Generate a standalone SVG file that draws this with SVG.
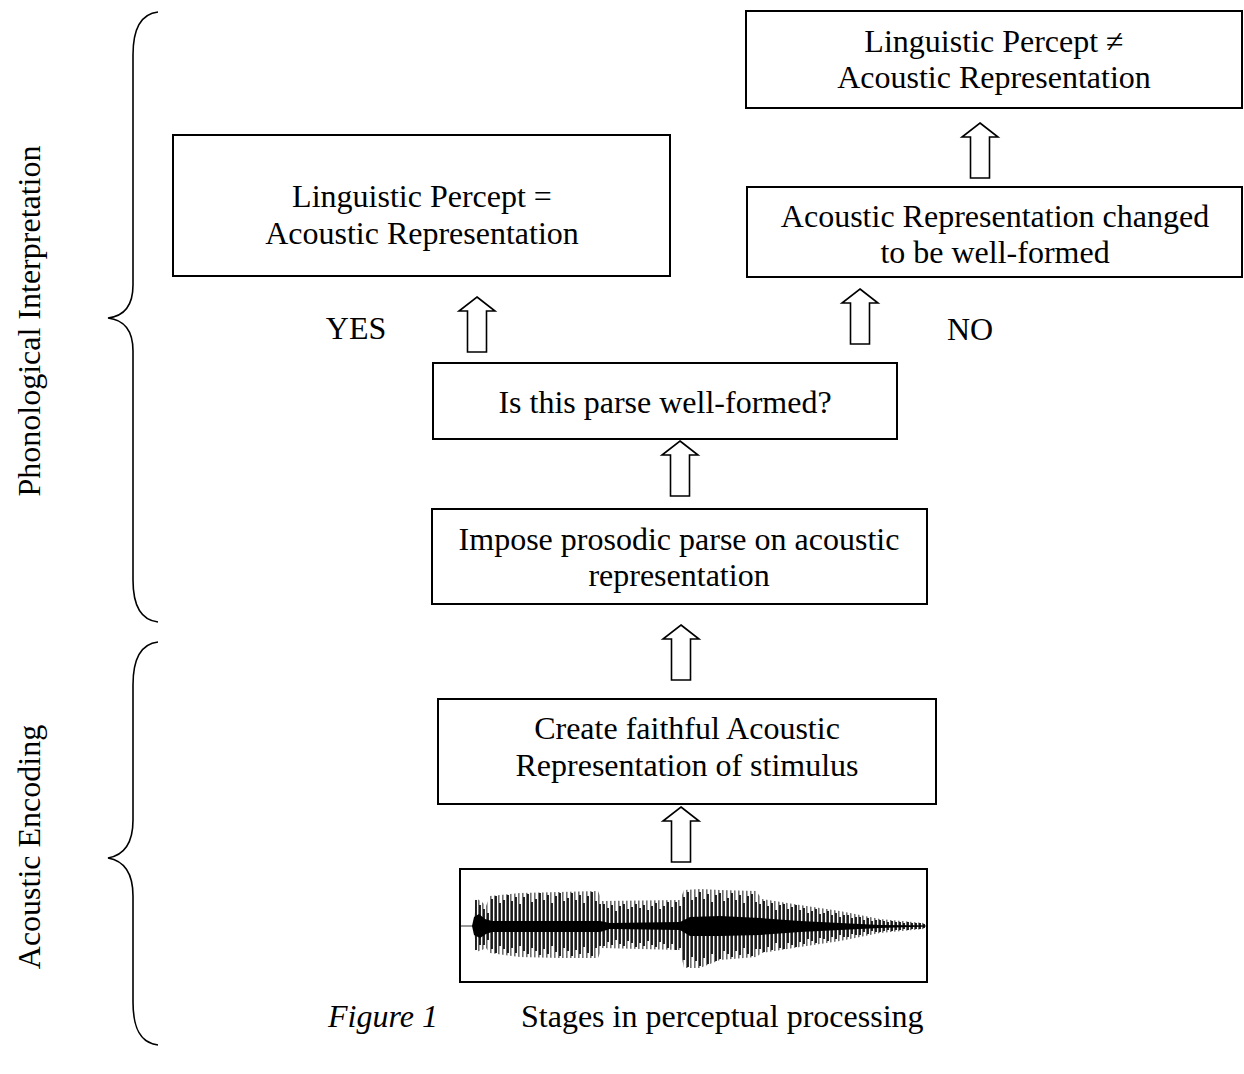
<svg xmlns="http://www.w3.org/2000/svg" width="1244" height="1074" viewBox="0 0 1244 1074">
<style>
.box{fill:#fff;stroke:#000;stroke-width:2}
.t{font-family:"Liberation Serif","Times New Roman",serif;font-size:32px;fill:#000;text-anchor:middle}
.arr{fill:#fff;stroke:#000;stroke-width:1.6;stroke-linejoin:miter}
.brace{fill:none;stroke:#000;stroke-width:1.6}
</style>
<defs>
<path id="uparrow" class="arr" d="M0,0 L18,14 L9.5,14 L9.5,55 L-9.5,55 L-9.5,14 L-18,14 Z"/>
<pattern id="greyLines" patternUnits="userSpaceOnUse" x="2" y="0" width="4" height="10">
<rect x="0" y="0" width="1.6" height="10" fill="#6e6e6e"/>
</pattern>
</defs>
<rect width="1244" height="1074" fill="#fff"/>

<g id="braces">
<path class="brace" d="M158,12 C140,14 133,30 133,55 L133,285 C133,305 125,316 108,318 C125,320 133,331 133,351 L133,580 C133,605 140,620 158,622"/>
<path class="brace" d="M158,642 C140,644 133,660 133,685 L133,820 C133,842 125,855 108,858 C125,861 133,874 133,896 L133,1002 C133,1028 140,1043 158,1045"/>
</g>
<g id="side-labels">
<text class="t" transform="translate(40,321) rotate(-90)">Phonological Interpretation</text>
<text class="t" transform="translate(40,847) rotate(-90)">Acoustic Encoding</text>
</g>

<g id="node-percept-neq">
<rect class="box" x="746" y="11" width="496" height="97"/>
<text class="t" x="994" y="52">Linguistic Percept ≠</text>
<text class="t" x="994" y="88">Acoustic Representation</text>
</g>
<g id="node-changed">
<rect class="box" x="747" y="187" width="495" height="90"/>
<text class="t" x="995" y="227">Acoustic Representation changed</text>
<text class="t" x="995" y="263">to be well-formed</text>
</g>
<g id="node-percept-eq">
<rect class="box" x="173" y="135" width="497" height="141"/>
<text class="t" x="422" y="207">Linguistic Percept =</text>
<text class="t" x="422" y="244">Acoustic Representation</text>
</g>
<g id="node-wellformed">
<rect class="box" x="433" y="363" width="464" height="76"/>
<text class="t" x="665" y="413">Is this parse well-formed?</text>
</g>
<g id="node-impose">
<rect class="box" x="432" y="509" width="495" height="95"/>
<text class="t" x="679" y="550">Impose prosodic parse on acoustic</text>
<text class="t" x="679" y="586">representation</text>
</g>
<g id="node-faithful">
<rect class="box" x="438" y="699" width="498" height="105"/>
<text class="t" x="687" y="739">Create faithful Acoustic</text>
<text class="t" x="687" y="776">Representation of stimulus</text>
</g>
<g id="node-waveform">
<rect class="box" x="460" y="869" width="467" height="113"/>
<line x1="461" y1="926" x2="926" y2="926" stroke="#333" stroke-width="1"/>
<polygon fill="url(#greyLines)" points="474,926 476,898 482,902 486,906 490,896 520,893 560,892 598,891 602,901 680,900 684,890 700,889 720,890 756,891 762,899 800,905 840,911 880,919 924,923 924,929 880,933 840,941 800,947 762,953 756,957 720,960 700,968 684,968 680,950 602,948 598,958 560,958 520,957 490,953 486,948 482,950 476,952"/>
<path stroke="#000" stroke-width="1.7" fill="none" d="M476,900V950M480,905V945M484,909V945M488,913V940M492,899V949M496,896V953M500,903V946M504,900V949M508,895V953M512,901V948M516,897V953M520,904V946M524,897V951M528,894V954M532,902V948M536,899V951M540,893V955M544,900V949M548,895V954M552,903V946M556,896V952M560,893V956M564,901V948M568,898V951M572,893V956M576,900V950M580,895V954M584,903V947M588,896V953M592,892V956M596,901V948M600,904V946M604,904V946M608,908V942M612,905V945M616,911V940M620,906V944M624,904V946M628,909V941M632,907V943M636,904V947M640,908V943M644,905V946M648,910V941M652,906V945M656,903V947M660,909V942M664,906V944M668,902V948M672,907V944M676,902V950M680,906V948M684,897V960M688,892V967M692,900V957M696,897V961M700,892V966M704,899V958M708,894V964M712,902V954M716,895V961M720,893V959M724,901V951M728,898V954M732,893V957M736,900V951M740,895V955M744,903V948M748,896V954M752,894V956M756,902V949M760,904V949M764,901V952M768,906V947M772,903V950M776,910V943M780,905V948M784,904V949M788,909V943M792,907V945M796,905V947M800,910V942M804,908V944M808,913V939M812,911V941M816,909V943M820,914V938M824,913V939M828,911V941M832,915V937M836,913V939M840,917V935M844,915V937M848,915V937M852,918V934M856,917V935M860,917V935M864,920V932M868,918V934M872,921V931M876,920V932M880,920V932M884,921V931M888,922V930M892,921V931M896,922V930M900,922V930M904,923V929M908,922V930M912,923V929M916,923V929M920,923V929M924,924V928"/>
<polygon fill="#000" points="472,926 474,917 479,914 485,919 492,921 600,921 610,923 680,922 690,917 720,916 760,918 800,921 840,923 880,925 925,925.6 925,926.6 880,928 840,930 800,932 760,935 720,936 690,936 680,930 610,929 600,932 492,932 486,934 480,938 474,935"/>
</g>

<g id="connectors">
<use href="#uparrow" x="980" y="123"/>
<use href="#uparrow" x="477" y="297"/>
<use href="#uparrow" x="860" y="289"/>
<use href="#uparrow" x="680" y="441"/>
<use href="#uparrow" x="681" y="625"/>
<use href="#uparrow" x="681" y="807"/>
</g>
<g id="branch-labels">
<text class="t" x="356" y="339">YES</text>
<text class="t" x="970" y="340">NO</text>
</g>
<g id="caption">
<text x="328" y="1027" style="font-family:'Liberation Serif','Times New Roman',serif;font-size:32px;font-style:italic">Figure 1</text>
<text x="521" y="1027" style="font-family:'Liberation Serif','Times New Roman',serif;font-size:32px">Stages in perceptual processing</text>
</g>
</svg>
